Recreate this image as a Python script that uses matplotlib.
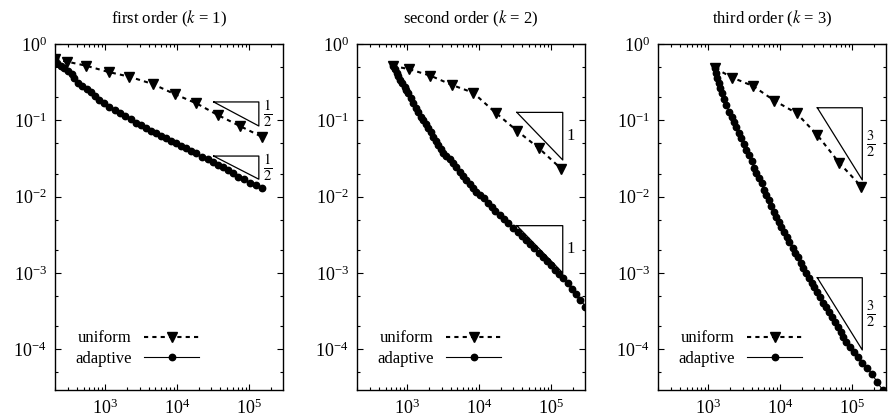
import matplotlib
matplotlib.use("Agg")
import matplotlib.pyplot as plt
from matplotlib.ticker import LogLocator, NullFormatter
import numpy as np

plt.rcParams['font.family'] = 'serif'
plt.rcParams['font.serif'] = ['Liberation Serif', 'DejaVu Serif']
plt.rcParams['mathtext.fontset'] = 'stix'
plt.rcParams['font.size'] = 12

# ------------------------------------------------------------
# datos: número de grados de libertad vs error
# ------------------------------------------------------------
titulos = ["first order ($k$ = 1)", "second order ($k$ = 2)", "third order ($k$ = 3)"]

# k = 1
n_unif_1 = [200, 297, 537, 1110, 2160, 4580, 9200, 18500, 37000, 74500, 150000]
e_unif_1 = [0.630, 0.586, 0.520, 0.430, 0.373, 0.299, 0.221, 0.167, 0.117, 0.0842, 0.0610]
n_adap_1 = [200, 216, 240, 267, 304, 343, 369, 424, 482, 555, 631, 718, 824, 968,
            1140, 1360, 1600, 1900, 2280, 2690, 3150, 3700, 4350, 5110, 6000, 7050,
            8280, 9710, 11400, 13400, 15700, 18500, 22400, 26900, 31500, 37000,
            43500, 51000, 60000, 70500, 84500, 103000, 127000, 150000]
e_adap_1 = [0.650, 0.569, 0.515, 0.481, 0.447, 0.404, 0.355, 0.311, 0.282, 0.257,
            0.233, 0.208, 0.185, 0.167, 0.151, 0.136, 0.124, 0.114, 0.103, 0.0931,
            0.0868, 0.0785, 0.0731, 0.0676, 0.0623, 0.0581, 0.0541, 0.0499, 0.0460,
            0.0430, 0.0396, 0.0369, 0.0333, 0.0308, 0.0281, 0.0259, 0.0242, 0.0223,
            0.0202, 0.0182, 0.0169, 0.0152, 0.0142, 0.0128]

# k = 2
n_unif_2 = [631, 1045, 2094, 4207, 8260, 16900, 33960, 68080, 139600]
e_unif_2 = [0.515, 0.470, 0.385, 0.290, 0.230, 0.126, 0.0724, 0.0430, 0.0230]
n_adap_2 = [638, 671, 710, 748, 789, 851, 916, 968, 1030, 1110, 1200, 1310, 1410,
            1530, 1650, 1800, 1960, 2110, 2310, 2480, 2710, 2920, 3180, 3500, 3890,
            4330, 4830, 5370, 5970, 6650, 7400, 8220, 9180, 10200, 11600, 13100,
            14900, 16700, 19400, 22300, 25600, 29700, 34300, 39000, 44800, 50800,
            58500, 67300, 76600, 86900, 99800, 115000, 130000, 148000, 171000,
            196000, 223000, 256000, 301000]
e_adap_2 = [0.515, 0.466, 0.421, 0.381, 0.337, 0.305, 0.275, 0.249, 0.226, 0.194,
            0.167, 0.144, 0.127, 0.111, 0.101, 0.0895, 0.0785, 0.0697, 0.0610,
            0.0541, 0.0474, 0.0417, 0.0369, 0.0340, 0.0311, 0.0273, 0.0242, 0.0212,
            0.0186, 0.0165, 0.0146, 0.0129, 0.0116, 0.0105, 0.00951, 0.00817,
            0.00724, 0.00647, 0.00574, 0.00504, 0.00447, 0.00391, 0.00347, 0.00305,
            0.00270, 0.00239, 0.00210, 0.00184, 0.00163, 0.00143, 0.00126, 0.00110,
            0.000977, 0.000859, 0.000733, 0.000624, 0.000537, 0.000447, 0.000361]

# k = 3
n_unif_3 = [1250, 2170, 4180, 8320, 16900, 32900, 66200, 135000]
e_unif_3 = [0.480, 0.362, 0.282, 0.181, 0.124, 0.0641, 0.0278, 0.0135]
n_adap_3 = [1250, 1290, 1330, 1390, 1470, 1550, 1660, 1790, 1950, 2120, 2290, 2470,
            2680, 2890, 3140, 3390, 3680, 4010, 4310, 4660, 5050, 5510, 5920, 6460,
            6930, 7480, 8130, 8870, 9530, 10400, 11400, 12400, 13500, 14900, 16200,
            17700, 19400, 21100, 23000, 25300, 27500, 29900, 32900, 35800, 39800,
            43400, 47800, 52000, 57700, 63000, 69200, 75200, 83800, 92900, 105000,
            121000, 139000, 163000, 191000, 221000, 268000]
e_adap_3 = [0.480, 0.413, 0.355, 0.305, 0.262, 0.226, 0.188, 0.159, 0.130, 0.111,
            0.0959, 0.0809, 0.0676, 0.0581, 0.0489, 0.0408, 0.0351, 0.0296, 0.0235,
            0.0202, 0.0174, 0.0149, 0.0122, 0.0105, 0.00902, 0.00753, 0.00634,
            0.00546, 0.00469, 0.00404, 0.00340, 0.00293, 0.00252, 0.00214, 0.00184,
            0.00160, 0.00136, 0.00117, 0.00101, 0.000865, 0.000745, 0.000647,
            0.000557, 0.000479, 0.000407, 0.000354, 0.000304, 0.000262, 0.000225,
            0.000197, 0.000169, 0.000146, 0.000125, 0.000108, 9.27e-5, 7.98e-5,
            6.65e-5, 5.62e-5, 4.73e-5, 3.75e-5, 2.92e-5]

# triángulos de pendiente: (x izq, x der, y arriba, y abajo, etiqueta)
triangulos = [
    [(3.22e4, 1.37e5, 0.174, 0.0842, r"$\frac{1}{2}$"),
     (3.22e4, 1.37e5, 0.0340, 0.0169, r"$\frac{1}{2}$")],
    [(3.35e4, 1.456e5, 0.127, 0.0302, "1"),
     (3.35e4, 1.456e5, 4.16e-3, 1.0e-3, "1")],
    [(3.29e4, 1.39e5, 0.146, 0.0165, r"$\frac{3}{2}$"),
     (3.29e4, 1.39e5, 8.65e-4, 9.77e-5, r"$\frac{3}{2}$")],
]

series = [
    (n_unif_1, e_unif_1, n_adap_1, e_adap_1),
    (n_unif_2, e_unif_2, n_adap_2, e_adap_2),
    (n_unif_3, e_unif_3, n_adap_3, e_adap_3),
]

# ------------------------------------------------------------
# figura
# ------------------------------------------------------------
fig = plt.figure(figsize=(8.89, 4.2), dpi=100)
izquierdas = [55 / 889, 357 / 889, 658 / 889]
ancho = 228 / 889
abajo = 1 - 390 / 420
alto = 346 / 420

for i in range(3):
    ax = fig.add_axes([izquierdas[i], abajo, ancho, alto])
    nu, eu, na, ea = series[i]

    ax.plot(nu, eu, color='black', linestyle=(0, (2, 2)), linewidth=1.5,
            marker='v', markersize=6.5, label='uniform')
    ax.plot(na, ea, color='black', linestyle='-', linewidth=0.8,
            marker='o', markersize=4.6, label='adaptive')

    # triángulos de pendiente
    for (x0, x1, y0, y1, txt) in triangulos[i]:
        ax.plot([x0, x1, x1, x0], [y0, y0, y1, y0], color='black', linewidth=0.9)
        fs = 12 if txt == "1" else 15
        ax.annotate(txt, xy=(x1, np.sqrt(y0 * y1)), xytext=(3, 0),
                    textcoords='offset points', ha='left', va='center', fontsize=fs)

    ax.set_xscale('log')
    ax.set_yscale('log')
    ax.set_xlim(200, 2.97e5)
    ax.set_ylim(2.92e-5, 1.0)

    ax.xaxis.set_major_locator(LogLocator(base=10, numticks=10))
    ax.xaxis.set_minor_locator(LogLocator(base=10, subs=np.arange(2, 10), numticks=20))
    ax.yaxis.set_major_locator(LogLocator(base=10, numticks=10))
    ax.yaxis.set_minor_locator(LogLocator(base=10, subs=(2.0, 5.0), numticks=20))
    ax.xaxis.set_minor_formatter(NullFormatter())
    ax.yaxis.set_minor_formatter(NullFormatter())

    ax.tick_params(which='both', direction='in', top=True, right=True,
                   width=0.8, labelsize=13)
    ax.tick_params(which='major', length=4.5, pad=6)
    ax.tick_params(which='minor', length=2.5)
    for s in ax.spines.values():
        s.set_linewidth(1.0)

    ax.set_title(titulos[i], fontsize=12, pad=15)

    ax.legend(loc='center', bbox_to_anchor=(0.36, 0.12), frameon=False,
              markerfirst=False, handlelength=3.3, handletextpad=0.75,
              labelspacing=0.25, numpoints=1, borderpad=0, borderaxespad=0,
              fontsize=12)

fig.savefig('out.png', dpi=100)
